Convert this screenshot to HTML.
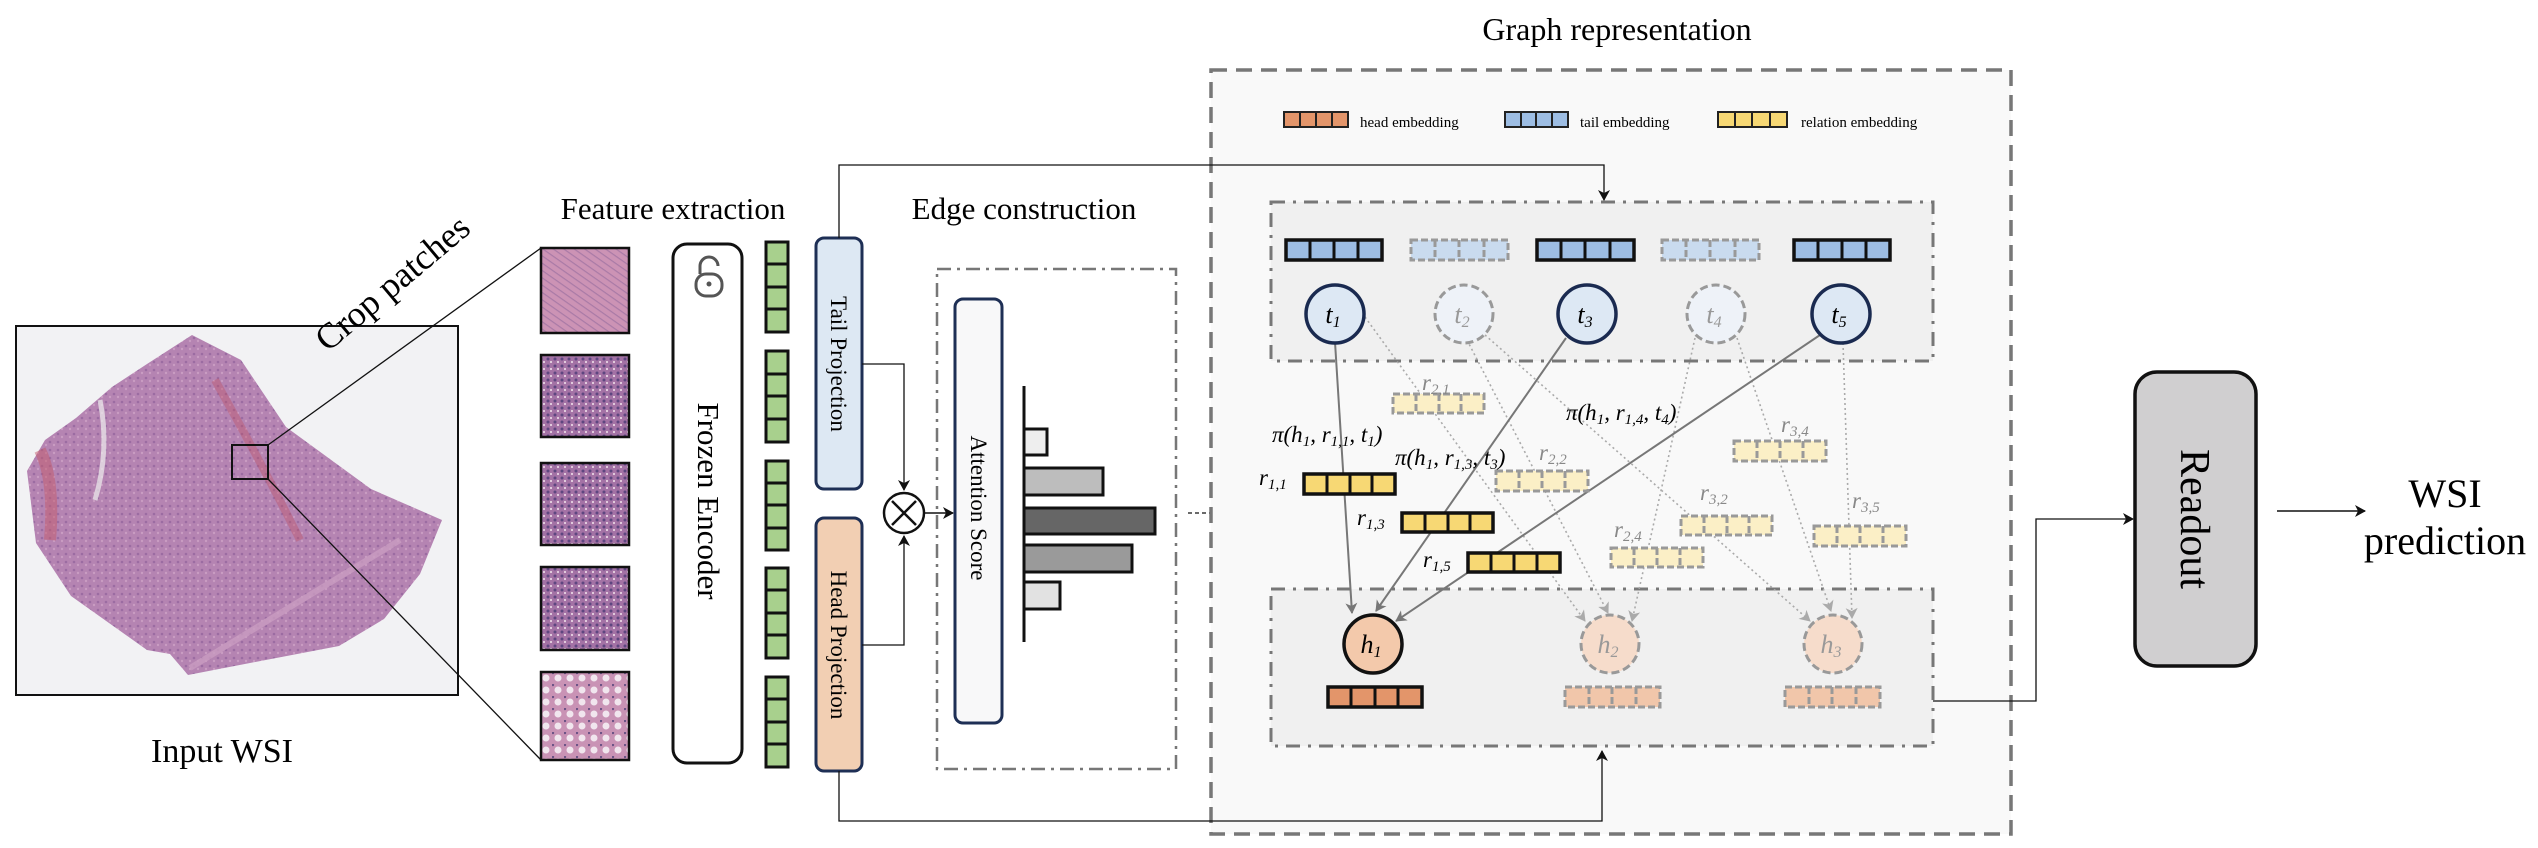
<!DOCTYPE html>
<html><head><meta charset="utf-8"><style>
html,body{margin:0;padding:0;background:#fff;}
svg{display:block;}
text{font-family:"Liberation Serif","Times New Roman",serif;}
</style></head><body>
<svg width="2538" height="848" viewBox="0 0 2538 848" xmlns="http://www.w3.org/2000/svg" font-family="Liberation Serif, serif">
<defs>
<marker id="a" markerWidth="12" markerHeight="12" refX="10" refY="6" orient="auto" markerUnits="userSpaceOnUse"><path d="M0,0 L11,6 L0,12 L3,6 Z" fill="#111"/></marker>
<marker id="ag" markerWidth="12" markerHeight="12" refX="10" refY="6" orient="auto" markerUnits="userSpaceOnUse"><path d="M0,0 L11,6 L0,12 L3,6 Z" fill="#777"/></marker>
<marker id="al" markerWidth="12" markerHeight="12" refX="10" refY="6" orient="auto" markerUnits="userSpaceOnUse"><path d="M0,0 L11,6 L0,12 L3,6 Z" fill="#aaa"/></marker>
<pattern id="tis" width="8" height="8" patternUnits="userSpaceOnUse"><rect width="8" height="8" fill="#b584b2"/><circle cx="2" cy="2" r="1.3" fill="#9b6ca2"/><circle cx="6" cy="5" r="1.2" fill="#c99cc2"/></pattern>
<pattern id="p1" width="6" height="6" patternUnits="userSpaceOnUse" patternTransform="rotate(35)"><rect width="6" height="6" fill="#cc93b5"/><rect width="6" height="1.2" fill="#a97aa6"/></pattern>
<pattern id="p2" width="7" height="7" patternUnits="userSpaceOnUse"><rect width="7" height="7" fill="#a372a5"/><circle cx="2" cy="2" r="1.5" fill="#5e4680"/><circle cx="5" cy="5" r="1.1" fill="#e7d3e3"/></pattern>
<pattern id="p3" width="12" height="12" patternUnits="userSpaceOnUse"><rect width="12" height="12" fill="#c993b5"/><circle cx="6" cy="6" r="3.5" fill="#f1e6ee"/><circle cx="1" cy="1" r="1.2" fill="#6a5285"/></pattern>
</defs>

<rect x="16" y="326" width="442" height="369" fill="#f2f2f4" stroke="#111" stroke-width="2"/>
<polygon points="192,335 241,360 286,427 371,489 442,520 420,574 384,619 339,646 250,663 188,675 170,654 147,650 71,596 36,543 27,471 45,440 76,418 112,387 147,364" fill="url(#tis)"/>
<path d="M40,450 Q55,480 50,540" stroke="#c45a6a" stroke-width="12" fill="none" opacity="0.5"/>
<path d="M215,380 Q260,460 300,540" stroke="#c04a5a" stroke-width="8" fill="none" opacity="0.35"/>
<path d="M190,668 L400,540" stroke="#c99cc0" stroke-width="6" fill="none" opacity="0.8"/>
<path d="M100,400 Q110,450 95,500" stroke="#eee" stroke-width="5" fill="none" opacity="0.7"/>
<rect x="232" y="445" width="36" height="34" fill="none" stroke="#111" stroke-width="2"/>
<line x1="268" y1="445" x2="541" y2="248" stroke="#111" stroke-width="1.3"/>
<line x1="268" y1="479" x2="541" y2="760" stroke="#111" stroke-width="1.3"/>
<text x="222" y="762" font-size="34" text-anchor="middle">Input WSI</text>
<text x="0" y="0" font-size="36" text-anchor="middle" transform="translate(400,292) rotate(-40)">Crop patches</text>

<rect x="541" y="248" width="88" height="85" fill="url(#p1)" stroke="#111" stroke-width="2.5"/>
<rect x="541" y="355" width="88" height="82" fill="url(#p2)" stroke="#111" stroke-width="2.5"/>
<rect x="541" y="463" width="88" height="82" fill="url(#p2)" stroke="#111" stroke-width="2.5"/>
<rect x="541" y="567" width="88" height="83" fill="url(#p2)" stroke="#111" stroke-width="2.5"/>
<rect x="541" y="672" width="88" height="88" fill="url(#p3)" stroke="#111" stroke-width="2.5"/>

<text x="673" y="219" font-size="31" text-anchor="middle">Feature extraction</text>
<rect x="673" y="244" width="69" height="519" rx="14" fill="#fff" stroke="#111" stroke-width="3"/>
<g stroke="#555" stroke-width="3" fill="none"><rect x="696" y="274" width="26" height="22" rx="10"/><path d="M700,274 v-8 a9,9 0 0 1 18,0"/></g>
<circle cx="709" cy="284" r="2.5" fill="#555"/>
<text x="0" y="0" font-size="31" text-anchor="middle" transform="translate(698,501) rotate(90)">Frozen Encoder</text>

<g fill="#a8d08d" stroke="#111" stroke-width="3">
<rect x="766" y="242" width="22" height="90"/><rect x="766" y="351" width="22" height="91"/><rect x="766" y="461" width="22" height="89"/><rect x="766" y="568" width="22" height="90"/><rect x="766" y="677" width="22" height="90"/>
</g>
<g stroke="#111" stroke-width="3">
<line x1="766" y1="264" x2="788" y2="264"/><line x1="766" y1="287" x2="788" y2="287"/><line x1="766" y1="309" x2="788" y2="309"/>
<line x1="766" y1="374" x2="788" y2="374"/><line x1="766" y1="396" x2="788" y2="396"/><line x1="766" y1="419" x2="788" y2="419"/>
<line x1="766" y1="483" x2="788" y2="483"/><line x1="766" y1="505" x2="788" y2="505"/><line x1="766" y1="528" x2="788" y2="528"/>
<line x1="766" y1="590" x2="788" y2="590"/><line x1="766" y1="613" x2="788" y2="613"/><line x1="766" y1="635" x2="788" y2="635"/>
<line x1="766" y1="699" x2="788" y2="699"/><line x1="766" y1="722" x2="788" y2="722"/><line x1="766" y1="744" x2="788" y2="744"/>
</g>

<rect x="816" y="238" width="46" height="251" rx="8" fill="#dde8f3" stroke="#1e2f55" stroke-width="3"/>
<text x="0" y="0" font-size="23" text-anchor="middle" transform="translate(831,364) rotate(90)">Tail Projection</text>
<rect x="816" y="518" width="46" height="253" rx="8" fill="#f2cfb3" stroke="#1e2f55" stroke-width="3"/>
<text x="0" y="0" font-size="23" text-anchor="middle" transform="translate(831,645) rotate(90)">Head Projection</text>

<circle cx="904" cy="513" r="20" fill="#fff" stroke="#111" stroke-width="2.5"/>
<path d="M892,501 L916,525 M916,501 L892,525" stroke="#111" stroke-width="2.5"/>
<path d="M862,364 H904 V490" fill="none" stroke="#111" stroke-width="1.3" marker-end="url(#a)"/>
<path d="M862,645 H904 V536" fill="none" stroke="#111" stroke-width="1.3" marker-end="url(#a)"/>
<path d="M924,513 H953" fill="none" stroke="#111" stroke-width="1.5" marker-end="url(#a)"/>

<text x="1024" y="219" font-size="31" text-anchor="middle">Edge construction</text>
<rect x="937" y="269" width="239" height="500" fill="none" stroke="#777" stroke-width="2.5" stroke-dasharray="14,6,3,6"/>
<rect x="955" y="299" width="47" height="424" rx="8" fill="#f8f8f9" stroke="#1e2f55" stroke-width="3"/>
<text x="0" y="0" font-size="23" text-anchor="middle" transform="translate(971,508) rotate(90)">Attention Score</text>
<g stroke="#111" stroke-width="3">
<rect x="1024" y="429" width="23" height="26" fill="#eeeeee"/>
<rect x="1024" y="468" width="79" height="27" fill="#bdbdbd"/>
<rect x="1024" y="508" width="131" height="26" fill="#666"/>
<rect x="1024" y="545" width="108" height="27" fill="#9a9a9a"/>
<rect x="1024" y="582" width="36" height="27" fill="#e2e2e2"/>
<line x1="1024" y1="386" x2="1024" y2="642"/>
</g>
<path d="M1188,513 H1232" stroke="#111" stroke-width="1.3" stroke-dasharray="4,3" fill="none" marker-end="url(#a)"/>

<text x="1617" y="40" font-size="32" text-anchor="middle">Graph representation</text>
<rect x="1211" y="70" width="800" height="764" fill="#f9f9f9" stroke="#777" stroke-width="3.5" stroke-dasharray="16,9"/>
<g stroke="#222" stroke-width="2">
<rect x="1284" y="112" width="64" height="15" fill="#e3956a"/><path d="M1300,112v15M1316,112v15M1332,112v15"/>
<rect x="1505" y="112" width="63" height="15" fill="#9dbde3"/><path d="M1521,112v15M1536,112v15M1552,112v15"/>
<rect x="1718" y="112" width="69" height="15" fill="#f7d874"/><path d="M1735,112v15M1752,112v15M1770,112v15"/>
</g>
<text x="1360" y="127" font-size="15">head embedding</text>
<text x="1580" y="127" font-size="15">tail embedding</text>
<text x="1801" y="127" font-size="15">relation embedding</text>

<rect x="1271" y="202" width="662" height="159" fill="#f0f0f0" stroke="#777" stroke-width="3" stroke-dasharray="14,8,3,8"/>
<rect x="1271" y="589" width="662" height="157" fill="#f0f0f0" stroke="#777" stroke-width="3" stroke-dasharray="14,8,3,8"/>

<path d="M839,238 V165 H1604 V200" fill="none" stroke="#111" stroke-width="1.3" marker-end="url(#a)"/>
<path d="M839,771 V821 H1602 V751" fill="none" stroke="#111" stroke-width="1.3" marker-end="url(#a)"/>

<g stroke="#111" stroke-width="3.5" fill="#9dbde3">
<rect x="1286" y="240" width="96" height="20"/><rect x="1537" y="240" width="97" height="20"/><rect x="1794" y="240" width="96" height="20"/>
</g>
<g stroke="#111" stroke-width="3"><path d="M1310,240v20M1334,240v20M1358,240v20M1561,240v20M1585,240v20M1610,240v20M1818,240v20M1842,240v20M1866,240v20"/></g>
<g stroke="#999" stroke-width="3" stroke-dasharray="7,3" fill="#c9dbef">
<rect x="1411" y="240" width="97" height="20"/><rect x="1662" y="240" width="97" height="20"/>
<path d="M1435,240v20M1459,240v20M1484,240v20M1686,240v20M1710,240v20M1735,240v20" fill="none"/>
</g>

<g stroke="#aaa" stroke-width="1.6" stroke-dasharray="2,3" fill="none">
<line x1="1365" y1="317" x2="1585" y2="621" marker-end="url(#al)"/>
<line x1="1467" y1="340" x2="1608" y2="613" marker-end="url(#al)"/>
<line x1="1485" y1="335" x2="1810" y2="621" marker-end="url(#al)"/>
<line x1="1695" y1="338" x2="1632" y2="621" marker-end="url(#al)"/>
<line x1="1737" y1="338" x2="1831" y2="611" marker-end="url(#al)"/>
<line x1="1843" y1="343" x2="1852" y2="618" marker-end="url(#al)"/>
</g>
<g stroke="#777" stroke-width="2" fill="none">
<line x1="1335" y1="342" x2="1352" y2="613" marker-end="url(#ag)"/>
<line x1="1566" y1="338" x2="1376" y2="611" marker-end="url(#ag)"/>
<line x1="1820" y1="335" x2="1396" y2="621" marker-end="url(#ag)"/>
</g>

<circle cx="1335" cy="314" r="29" fill="#dde8f4" stroke="#1a2a50" stroke-width="3.5"/>
<circle cx="1464" cy="314" r="29" fill="#eef2f8" stroke="#999" stroke-width="3" stroke-dasharray="8,4"/>
<circle cx="1587" cy="314" r="29" fill="#dde8f4" stroke="#1a2a50" stroke-width="3.5"/>
<circle cx="1716" cy="314" r="29" fill="#eef2f8" stroke="#999" stroke-width="3" stroke-dasharray="8,4"/>
<circle cx="1841" cy="314" r="29" fill="#dde8f4" stroke="#1a2a50" stroke-width="3.5"/>
<g font-size="26" text-anchor="middle">
<text x="1333" y="323" font-style="italic">t<tspan font-size="16" dy="4">1</tspan></text>
<text x="1462" y="323" fill="#999" font-style="italic">t<tspan font-size="16" dy="4">2</tspan></text>
<text x="1585" y="323" font-style="italic">t<tspan font-size="16" dy="4">3</tspan></text>
<text x="1714" y="323" fill="#999" font-style="italic">t<tspan font-size="16" dy="4">4</tspan></text>
<text x="1839" y="323" font-style="italic">t<tspan font-size="16" dy="4">5</tspan></text>
</g>

<g stroke="#111" stroke-width="3.5" fill="#f7d874">
<rect x="1304" y="474" width="91" height="20"/><rect x="1402" y="513" width="91" height="19"/><rect x="1468" y="553" width="92" height="19"/>
</g>
<g stroke="#111" stroke-width="3"><path d="M1327,474v20M1350,474v20M1372,474v20M1425,513v19M1448,513v19M1470,513v19M1491,553v19M1514,553v19M1537,553v19"/></g>
<g stroke="#999" stroke-width="3" stroke-dasharray="7,3" fill="#fbefc6">
<rect x="1393" y="394" width="91" height="19"/><path d="M1416,394v19M1439,394v19M1461,394v19" fill="none"/>
<rect x="1496" y="471" width="92" height="20"/><path d="M1519,471v20M1542,471v20M1565,471v20" fill="none"/>
<rect x="1611" y="548" width="92" height="19"/><path d="M1634,548v19M1657,548v19M1680,548v19" fill="none"/>
<rect x="1681" y="516" width="91" height="19"/><path d="M1704,516v19M1727,516v19M1749,516v19" fill="none"/>
<rect x="1734" y="441" width="92" height="20"/><path d="M1757,441v20M1780,441v20M1803,441v20" fill="none"/>
<rect x="1814" y="526" width="92" height="20"/><path d="M1837,526v20M1860,526v20M1883,526v20" fill="none"/>
</g>

<g font-size="23">
<text x="1422" y="390" fill="#888" font-style="italic">r<tspan font-size="15" dy="4">2,1</tspan></text>
<text x="1539" y="460" fill="#888" font-style="italic">r<tspan font-size="15" dy="4">2,2</tspan></text>
<text x="1781" y="432" fill="#888" font-style="italic">r<tspan font-size="15" dy="4">3,4</tspan></text>
<text x="1700" y="500" fill="#888" font-style="italic">r<tspan font-size="15" dy="4">3,2</tspan></text>
<text x="1852" y="508" fill="#888" font-style="italic">r<tspan font-size="15" dy="4">3,5</tspan></text>
<text x="1614" y="537" fill="#888" font-style="italic">r<tspan font-size="15" dy="4">2,4</tspan></text>
<text x="1259" y="485" font-style="italic">r<tspan font-size="15" dy="4">1,1</tspan></text>
<text x="1357" y="525" font-style="italic">r<tspan font-size="15" dy="4">1,3</tspan></text>
<text x="1423" y="567" font-style="italic">r<tspan font-size="15" dy="4">1,5</tspan></text>
<text x="1272" y="442" font-style="italic">π(h<tspan font-size="15" dy="4">1</tspan><tspan dy="-4">, r</tspan><tspan font-size="15" dy="4">1,1</tspan><tspan dy="-4">, t</tspan><tspan font-size="15" dy="4">1</tspan><tspan dy="-4">)</tspan></text>
<text x="1395" y="465" font-style="italic">π(h<tspan font-size="15" dy="4">1</tspan><tspan dy="-4">, r</tspan><tspan font-size="15" dy="4">1,3</tspan><tspan dy="-4">, t</tspan><tspan font-size="15" dy="4">3</tspan><tspan dy="-4">)</tspan></text>
<text x="1566" y="420" font-style="italic">π(h<tspan font-size="15" dy="4">1</tspan><tspan dy="-4">, r</tspan><tspan font-size="15" dy="4">1,4</tspan><tspan dy="-4">, t</tspan><tspan font-size="15" dy="4">4</tspan><tspan dy="-4">)</tspan></text>
</g>

<circle cx="1373" cy="644" r="29" fill="#f3c9ab" stroke="#111" stroke-width="3.5"/>
<circle cx="1610" cy="644" r="29" fill="#f6dccb" stroke="#999" stroke-width="3" stroke-dasharray="8,4"/>
<circle cx="1833" cy="644" r="29" fill="#f6dccb" stroke="#999" stroke-width="3" stroke-dasharray="8,4"/>
<g font-size="26" text-anchor="middle">
<text x="1371" y="653" font-style="italic">h<tspan font-size="16" dy="4">1</tspan></text>
<text x="1608" y="653" fill="#999" font-style="italic">h<tspan font-size="16" dy="4">2</tspan></text>
<text x="1831" y="653" fill="#999" font-style="italic">h<tspan font-size="16" dy="4">3</tspan></text>
</g>
<rect x="1328" y="687" width="94" height="20" fill="#e3956a" stroke="#111" stroke-width="3.5"/>
<path d="M1351,687v20M1375,687v20M1398,687v20" stroke="#111" stroke-width="3"/>
<g stroke="#999" stroke-width="3" stroke-dasharray="7,3" fill="#f1c6aa">
<rect x="1565" y="687" width="95" height="20"/><path d="M1589,687v20M1612,687v20M1636,687v20" fill="none"/>
<rect x="1785" y="687" width="95" height="20"/><path d="M1809,687v20M1832,687v20M1856,687v20" fill="none"/>
</g>

<path d="M1933,701 H2036 V519 H2133" fill="none" stroke="#111" stroke-width="1.3" marker-end="url(#a)"/>
<rect x="2135" y="372" width="121" height="294" rx="22" fill="#d0cfd0" stroke="#111" stroke-width="3.5"/>
<text x="0" y="0" font-size="42" text-anchor="middle" transform="translate(2181,519) rotate(90)">Readout</text>
<path d="M2277,511 H2365" fill="none" stroke="#111" stroke-width="1.5" marker-end="url(#a)"/>
<text x="2445" y="507" font-size="40" text-anchor="middle">WSI</text>
<text x="2445" y="554" font-size="40" text-anchor="middle">prediction</text>
</svg>
</body></html>
